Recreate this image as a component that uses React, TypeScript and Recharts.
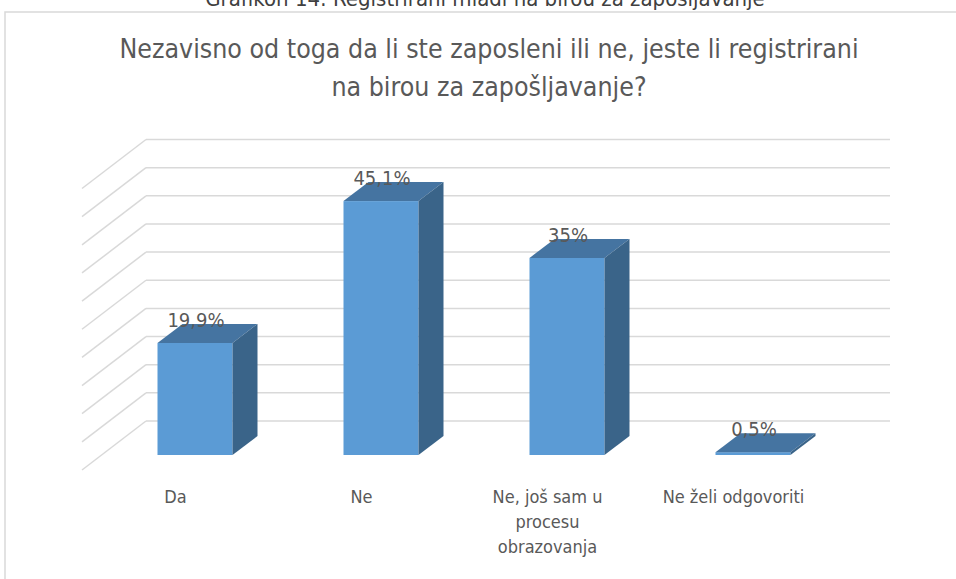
import { BarChart, Bar, XAxis, YAxis, CartesianGrid, LabelList } from 'recharts';

const categories = ['Da', 'Ne', 'Ne, još sam u\nprocesu\nobrazovanja', 'Ne želi odgovoriti'];
const shares = [19.9, 45.1, 35, 0.5];
const yTicks = [0, 5, 10, 15, 20, 25, 30, 35, 40, 45, 50];

const data = categories.map((name, i) => ({ name, value: shares[i] }));

const FONT = "'Liberation Sans Narrow', 'DejaVu Sans Condensed', Roboto, sans-serif";
const TEXT = '#595959';
// oblique depth of the bars and of the back wall
const DX = 25;
const DY = -19;

function Bar3D(props: any) {
  const { x, y, width, height } = props;
  const w = width;
  const h = Math.max(height, 0);
  return (
    <g>
      <rect x={x} y={y} width={w} height={h} fill="#5B9BD5" />
      <polygon
        points={`${x},${y} ${x + w},${y} ${x + w + DX},${y + DY} ${x + DX},${y + DY}`}
        fill="#4574A1"
      />
      <polygon
        points={`${x + w},${y} ${x + w + DX},${y + DY} ${x + w + DX},${y + h + DY} ${x + w},${y + h}`}
        fill="#3A6489"
      />
    </g>
  );
}

function GridLine(props: any) {
  const { x1, x2, y1 } = props;
  return (
    <g>
      <line x1={x1 + 44.5} y1={y1 - 34} x2={x2 + 44.5} y2={y1 - 34} stroke="#D9D9D9" strokeWidth={1.5} />
      <line x1={x1 + 44.5} y1={y1 - 34} x2={x1 - 19.5} y2={y1 + 15} stroke="#D9D9D9" strokeWidth={1.5} />
    </g>
  );
}

function CategoryTick(props: any) {
  const { x, y, payload } = props;
  const lines = String(payload.value).split('\n');
  return (
    <text x={x - 19} y={y + 48} textAnchor="middle" fill={TEXT} fontSize={18} fontFamily={FONT}>
      {lines.map((line, i) => (
        <tspan key={i} x={x - 19} dy={i === 0 ? 0 : 25}>
          {line}
        </tspan>
      ))}
    </text>
  );
}

function ValueLabel(props: any) {
  const { x, y, width, value } = props;
  return (
    <text x={x + width / 2 + 1} y={y - 16} textAnchor="middle" fill={TEXT} fontSize={20} fontFamily={FONT}>
      {String(value).replace('.', ',') + '%'}
    </text>
  );
}

export default function App() {
  return (
    <div style={{ position: 'absolute', left: 0, top: 0, width: 956, height: 579, background: '#fff', overflow: 'hidden' }}>
      <svg width={956} height={579} style={{ position: 'absolute', left: 0, top: 0 }}>
        <text x={485} y={6} textAnchor="middle" fill="#404040" fontSize={22} fontFamily={FONT}>
          Grafikon 14: Registrirani mladi na birou za zapošljavanje
        </text>
        <rect x={5} y={12} width={1000} height={700} fill="#fff" stroke="#D9D9D9" strokeWidth={1.5} />
        <text x={489} y={58} textAnchor="middle" fill={TEXT} fontSize={26.5} fontFamily={FONT}>
          Nezavisno od toga da li ste zaposleni ili ne, jeste li registrirani
        </text>
        <text x={489} y={96} textAnchor="middle" fill={TEXT} fontSize={26.5} fontFamily={FONT}>
          na birou za zapošljavanje?
        </text>
      </svg>
      <div style={{ position: 'absolute', left: 0, top: 0 }}>
        <BarChart
          width={956}
          height={579}
          data={data}
          margin={{ top: 173.5, right: 110.5, bottom: 94, left: 101.5 }}
        >
          <CartesianGrid vertical={false} horizontal={(p: any) => <GridLine key={p.key ?? p.index} {...p} />} />
          <XAxis
            dataKey="name"
            axisLine={false}
            tickLine={false}
            tickSize={0}
            tickMargin={0}
            interval={0}
            tick={<CategoryTick />}
          />
          <YAxis hide domain={[0, 50]} ticks={yTicks} />
          <Bar dataKey="value" barSize={75} shape={<Bar3D />} isAnimationActive={false}>
            <LabelList dataKey="value" content={<ValueLabel />} />
          </Bar>
        </BarChart>
      </div>
    </div>
  );
}
